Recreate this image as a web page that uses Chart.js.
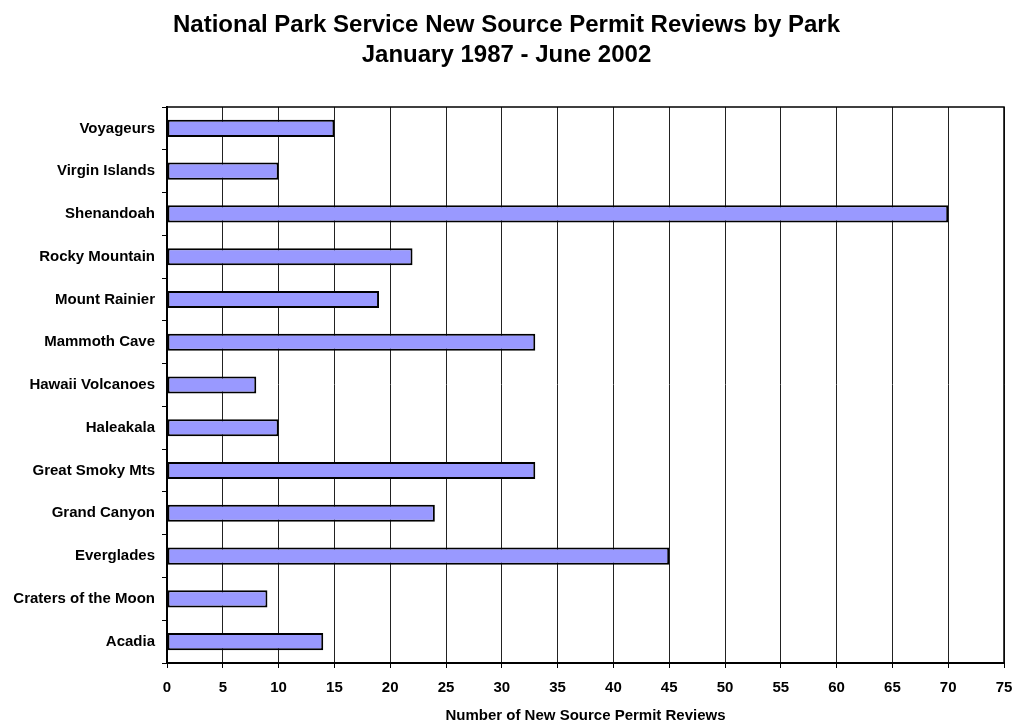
<!DOCTYPE html>
<html>
<head>
<meta charset="utf-8">
<script src="https://cdn.jsdelivr.net/npm/chart.js@4/dist/chart.umd.min.js"></script>
<style>
  body { margin: 0; background: #fff; }
</style>
</head>
<body>
<canvas id="park-bar" width="1013" height="725"></canvas>
<script>
const parks = [
  "Voyageurs",
  "Virgin Islands",
  "Shenandoah",
  "Rocky Mountain",
  "Mount Rainier",
  "Mammoth Cave",
  "Hawaii Volcanoes",
  "Haleakala",
  "Great Smoky Mts",
  "Grand Canyon",
  "Everglades",
  "Craters of the Moon",
  "Acadia",
];
const reviews = [15, 10, 70, 22, 19, 33, 8, 10, 33, 24, 45, 9, 14];
const titleLines = [
  "National Park Service New Source Permit Reviews by Park",
  "January 1987 - June 2002",
];
const xTitle = "Number of New Source Permit Reviews";

const FONT = "'Liberation Sans', Arial, sans-serif";

// frame round the plot area
const frame = {
  id: "frame",
  afterDatasetsDraw(chart) {
    const { ctx, chartArea } = chart;
    ctx.save();
    ctx.strokeStyle = "#000";
    ctx.lineWidth = 1.5;
    ctx.strokeRect(chartArea.left, chartArea.top, chartArea.right - chartArea.left, chartArea.bottom - chartArea.top);
    ctx.restore();
  },
};

var ctx = document.getElementById("park-bar").getContext("2d");
var chartBar = new Chart(ctx, {
  type: "bar",
  data: {
    labels: parks,
    datasets: [
      {
        data: reviews,
        backgroundColor: "#9999FF",
        borderColor: "#000",
        borderWidth: 2,
        borderSkipped: false,
        categoryPercentage: 1,
        barPercentage: 0.4,
      },
    ],
  },
  options: {
    indexAxis: "y",
    responsive: false,
    animation: false,
    layout: { padding: { left: 0, right: 0, top: 0, bottom: 0 } },
    plugins: {
      legend: { display: false },
      title: {
        display: true,
        text: titleLines,
        color: "#000",
        font: { family: FONT, size: 24, weight: "bold", lineHeight: 1.25 },
        padding: { top: 10, bottom: 37 },
      },
    },
    scales: {
      x: {
        min: 0,
        max: 75,
        afterFit: function (scale) {
          scale.height = 62;
          scale.paddingRight = 9;
        },
        border: { color: "#000", width: 2 },
        grid: {
          color: "#222",
          lineWidth: 1,
          tickLength: 5,
          tickColor: "#000",
        },
        ticks: {
          stepSize: 5,
          color: "#000",
          padding: 11,
          maxRotation: 0,
          font: { family: FONT, size: 15, weight: "bold" },
        },
        title: {
          display: true,
          text: xTitle,
          color: "#000",
          padding: { top: 0, bottom: 0 },
          font: { family: FONT, size: 15, weight: "bold" },
        },
      },
      y: {
        afterFit: function (scale) {
          scale.width = 167;
        },
        border: { color: "#000", width: 2 },
        grid: {
          drawOnChartArea: false,
          tickLength: 5,
          tickColor: "#000",
        },
        ticks: {
          color: "#000",
          padding: 7,
          autoSkip: false,
          font: { family: FONT, size: 15, weight: "bold" },
        },
      },
    },
  },
  plugins: [frame],
});
</script>
</body>
</html>
